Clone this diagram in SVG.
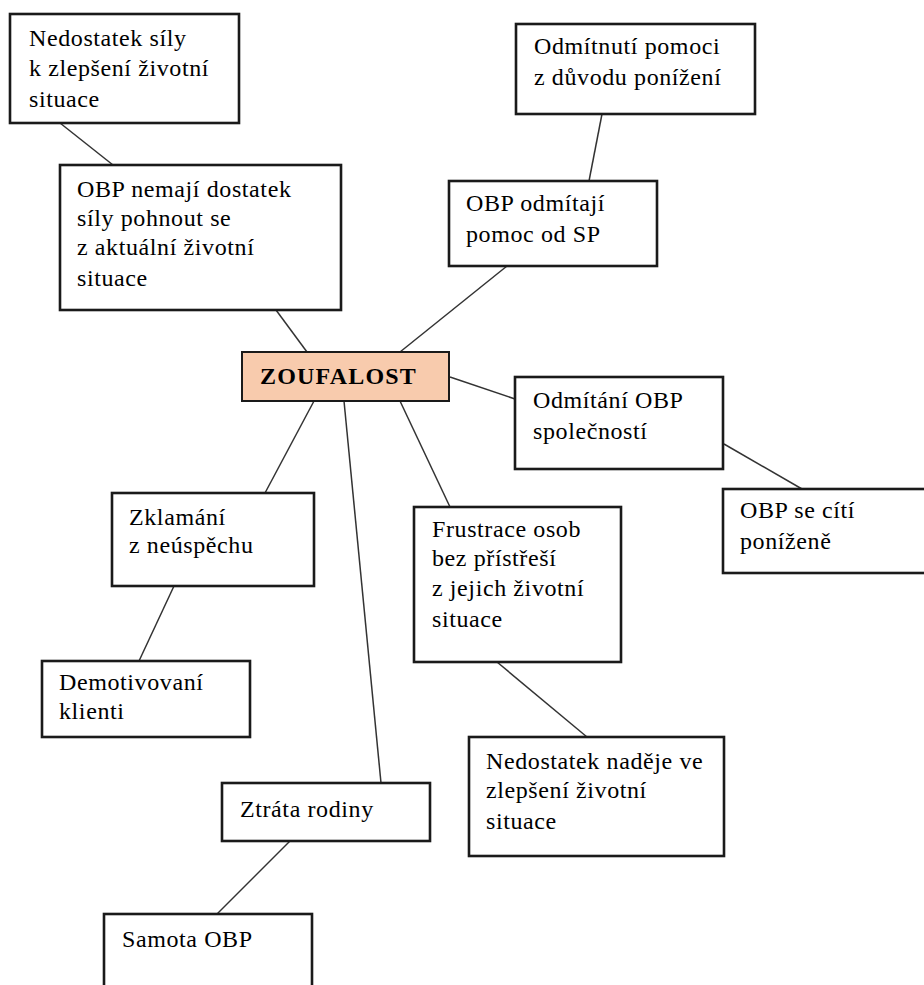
<svg xmlns="http://www.w3.org/2000/svg" width="924" height="985" viewBox="0 0 924 985">
<style>
.box{fill:#ffffff;stroke:#1a1a1a;stroke-width:2.6}
.core{fill:#f8cbad;stroke:#1a1a1a;stroke-width:2}
.t{font-family:'Liberation Serif','Times New Roman',serif;font-size:24px;letter-spacing:0.6px;fill:#000}
.b{font-weight:bold;font-size:24px;letter-spacing:1.2px}
.c{stroke:#333;stroke-width:1.5;fill:none}
</style>
<rect width="924" height="985" fill="#ffffff"/>
<g id="connectors">
<line class="c" x1="60" y1="123" x2="113" y2="165"/>
<line class="c" x1="276" y1="310" x2="307" y2="352"/>
<line class="c" x1="602" y1="114" x2="589" y2="181"/>
<line class="c" x1="507" y1="266" x2="400" y2="352"/>
<line class="c" x1="450" y1="377" x2="515" y2="399"/>
<line class="c" x1="724" y1="444" x2="802" y2="489"/>
<line class="c" x1="400" y1="401" x2="450" y2="507"/>
<line class="c" x1="497" y1="662" x2="587" y2="737"/>
<line class="c" x1="314" y1="401" x2="265" y2="493"/>
<line class="c" x1="174" y1="586" x2="139" y2="661"/>
<line class="c" x1="344" y1="401" x2="381" y2="783"/>
<line class="c" x1="290" y1="841" x2="217" y2="914"/>
</g>
<g id="n-nedostatek-sily">
<rect class="box" x="10" y="14" width="229" height="109"/>
<text class="t" x="29" y="46">Nedostatek síly</text>
<text class="t" x="29" y="76">k zlepšení životní</text>
<text class="t" x="29" y="107">situace</text>
</g>
<g id="n-obp-nemaji">
<rect class="box" x="60" y="165" width="281" height="145"/>
<text class="t" x="77" y="197">OBP nemají dostatek</text>
<text class="t" x="77" y="226">síly pohnout se</text>
<text class="t" x="77" y="255">z aktuální životní</text>
<text class="t" x="77" y="286">situace</text>
</g>
<g id="n-odmitnuti-pomoci">
<rect class="box" x="516" y="24" width="239" height="90"/>
<text class="t" x="534" y="54">Odmítnutí pomoci</text>
<text class="t" x="534" y="85">z důvodu ponížení</text>
</g>
<g id="n-obp-odmitaji">
<rect class="box" x="449" y="181" width="208" height="85"/>
<text class="t" x="466" y="211">OBP odmítají</text>
<text class="t" x="466" y="242">pomoc od SP</text>
</g>
<g id="n-zoufalost">
<rect class="core" x="242" y="352" width="207" height="49"/>
<text class="t b" x="260" y="384">ZOUFALOST</text>
</g>
<g id="n-odmitani-obp">
<rect class="box" x="515" y="377" width="208" height="92"/>
<text class="t" x="533" y="408">Odmítání OBP</text>
<text class="t" x="533" y="439">společností</text>
</g>
<g id="n-obp-se-citi">
<rect class="box" x="723" y="489" width="210" height="84"/>
<text class="t" x="740" y="518">OBP se cítí</text>
<text class="t" x="740" y="549">poníženě</text>
</g>
<g id="n-frustrace">
<rect class="box" x="414" y="507" width="207" height="155"/>
<text class="t" x="432" y="537">Frustrace osob</text>
<text class="t" x="432" y="566">bez přístřeší</text>
<text class="t" x="432" y="596">z jejich životní</text>
<text class="t" x="432" y="627">situace</text>
</g>
<g id="n-nedostatek-nadeje">
<rect class="box" x="469" y="737" width="255" height="119"/>
<text class="t" x="486" y="769">Nedostatek naděje ve</text>
<text class="t" x="486" y="798">zlepšení životní</text>
<text class="t" x="486" y="829">situace</text>
</g>
<g id="n-zklamani">
<rect class="box" x="112" y="493" width="202" height="93"/>
<text class="t" x="129" y="525">Zklamání</text>
<text class="t" x="129" y="553">z neúspěchu</text>
</g>
<g id="n-demotivovani">
<rect class="box" x="42" y="661" width="208" height="76"/>
<text class="t" x="59" y="690">Demotivovaní</text>
<text class="t" x="59" y="719">klienti</text>
</g>
<g id="n-ztrata-rodiny">
<rect class="box" x="222" y="783" width="208" height="58"/>
<text class="t" x="240" y="817">Ztráta rodiny</text>
</g>
<g id="n-samota">
<rect class="box" x="104" y="914" width="208" height="90"/>
<text class="t" x="122" y="947">Samota OBP</text>
</g>
</svg>
